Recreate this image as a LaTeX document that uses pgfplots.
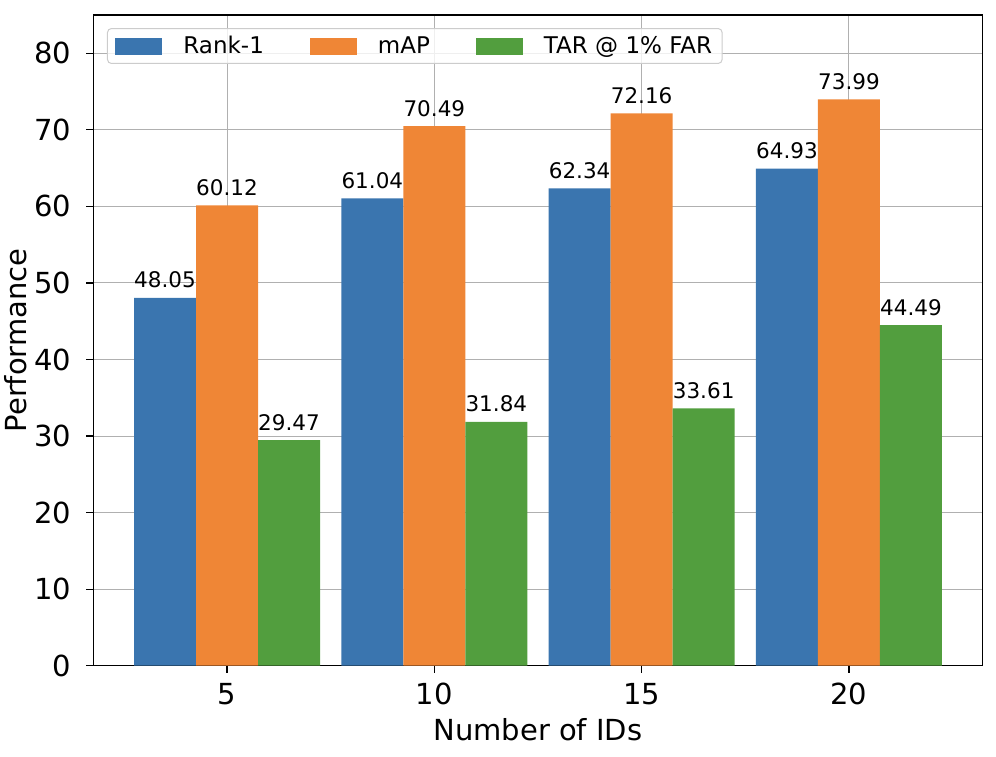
\documentclass[border=0pt]{standalone}
\usepackage{fontspec}
\setmainfont{DejaVu Sans}
\usepackage{pgfplots}
\pgfplotsset{compat=1.18}
\definecolor{cblue}{HTML}{3A75AF}
\definecolor{corange}{HTML}{EF8636}
\definecolor{cgreen}{HTML}{529E3E}
\definecolor{cgrid}{HTML}{B0B0B0}
\definecolor{cleg}{HTML}{CCCCCC}
\begin{document}
\begin{tikzpicture}
\useasboundingbox (-93.3pt,-90.3pt) rectangle (902.7pt,665.7pt);
\begin{axis}[
  scale only axis, width=889.4pt, height=650.7pt,
  xmin=-0.645, xmax=3.645, ymin=0, ymax=85.0,
  ybar=0pt, bar width=62pt,
  legend image code/.code={\fill[#1, fill opacity=1, sharp corners] (0pt,-8.5pt) rectangle (47pt,8.5pt);},
  xtick={0,1,2,3}, xticklabels={5,10,15,20},
  ytick={0,10,...,80},
  grid=major, major grid style={color=cgrid, line width=1pt},
  axis line style={line width=1.2pt},
  tick style={black, line width=1.2pt},
  tick align=outside, major tick length=7pt, tick pos=left,
  /pgf/number format/assume math mode=true,
  ticklabel style={font=\fontsize{29}{34}\selectfont},
  xticklabel style={anchor=base, yshift=-32pt, inner sep=0pt},
  yticklabel style={anchor=east, inner sep=0pt, xshift=-15pt},
  xlabel={Number of IDs}, ylabel={Performance},
  label style={font=\fontsize{29}{34}\selectfont},
  xlabel style={at={(axis description cs:0.5,-0.1153)}, anchor=base},
  ylabel style={at={(axis description cs:-0.0753,0.5)}, anchor=base},
  nodes near coords={\pgfmathprintnumber[fixed,fixed zerofill,precision=2]{\pgfplotspointmeta}},
  nodes near coords style={font=\fontsize{21.5}{25}\selectfont, anchor=base, inner sep=0pt, yshift=10pt, text=black},
  legend columns=3,
  legend style={at={(0.0154,0.98)}, anchor=north west, draw=cleg, line width=1pt,
    rounded corners=4pt, fill=white, fill opacity=0.8, text opacity=1,
    font=\fontsize{23}{27}\selectfont, inner xsep=8pt, inner ysep=6pt,
    /tikz/every odd column/.append style={column sep=19pt},
    /tikz/every even column/.append style={column sep=44pt}},
]
\addplot[fill=cblue, draw=none] coordinates {(0,48.05) (1,61.04) (2,62.34) (3,64.93)};
\addplot[fill=corange, draw=none] coordinates {(0,60.12) (1,70.49) (2,72.16) (3,73.99)};
\addplot[fill=cgreen, draw=none] coordinates {(0,29.47) (1,31.84) (2,33.61) (3,44.49)};
\legend{Rank-1, mAP, TAR @ 1\% FAR}
\end{axis}
\end{tikzpicture}
\end{document}
